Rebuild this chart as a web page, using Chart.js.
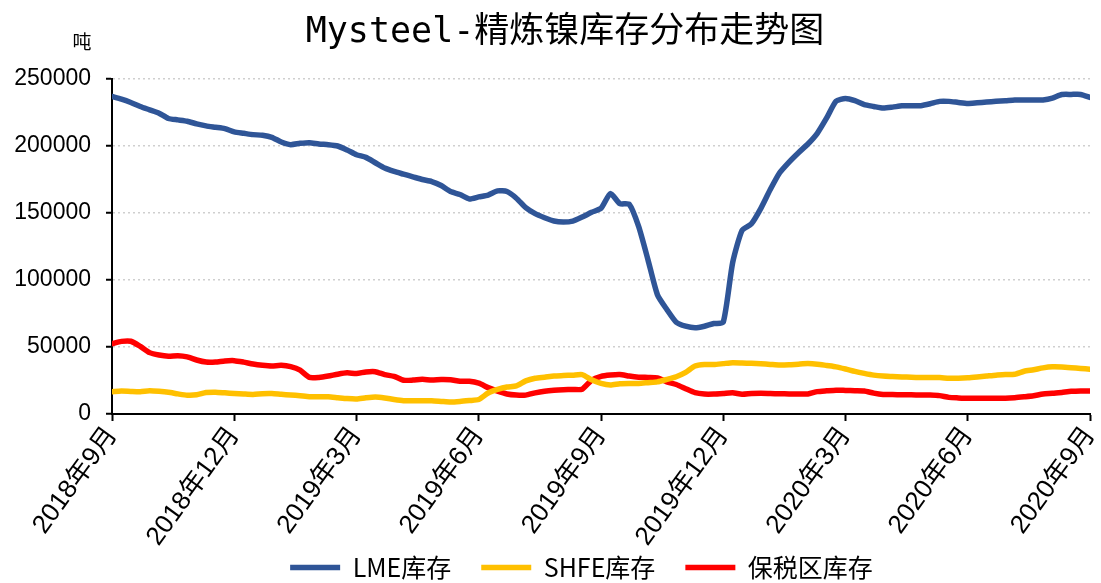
<!DOCTYPE html>
<html lang="zh">
<head>
<meta charset="UTF-8">
<title>Mysteel-精炼镍库存分布走势图</title>
<script src="https://cdn.jsdelivr.net/npm/chart.js"></script>
<style>
  body { margin: 0; background: #fff; }
  #wrap { width: 1101px; height: 583px; }
</style>
</head>
<body>
<div id="wrap"><canvas id="myChart"></canvas></div>
<script>
// tick labels, one every 13 weeks
const tickLabels = ['2018年9月', '2018年12月', '2019年3月', '2019年6月', '2019年9月',
  '2019年12月', '2020年3月', '2020年6月', '2020年9月']

// weekly stocks, tonnes
const lmeStock = [237000,235000,232500,229500,227000,224500,220500,219500,218500,216500,
  215000,214000,213000,210500,209500,208500,208000,206500,203000,201000,
  202000,202500,201500,201000,200000,197000,193500,191500,187500,183500,
  181000,179000,177000,175000,173500,170500,166000,163800,160500,162000,
  163400,166500,166000,161000,154000,149500,146500,144000,143300,144000,
  147000,150500,153500,164500,157000,156500,140000,115000,89000,78000,
  68500,65500,64300,65500,67500,68500,113000,137000,142000,153500,
  167500,180000,188000,195000,201500,209500,221000,233500,235500,233800,
  230800,229500,228300,229000,230000,230100,230100,231500,233300,233300,
  232500,231800,232300,232800,233400,233800,234300,234400,234400,234400,
  235700,238400,238500,238500,236300]

const shfeStock = [16600,17100,16800,16600,17300,16900,16200,15000,14000,14300,
  16000,16300,15800,15300,14900,14600,15200,15300,14700,14200,
  13600,12900,12900,12900,12200,11500,11200,12100,12700,12000,
  10800,9900,9900,9900,9900,9400,8900,9300,10000,10800,
  15700,18300,20100,21000,24700,26700,27500,28400,28700,29000,
  29400,25500,22800,21600,22600,22800,22800,23400,24000,25800,
  27800,31000,35800,36900,36900,37600,38300,38100,37800,37500,
  37000,36500,36700,37200,37600,37200,36200,35200,33600,31800,
  30300,29000,28300,28000,27700,27400,27200,27200,27200,26700,
  26700,27000,27600,28300,29000,29400,29700,31900,33000,34400,
  35200,35100,34600,34000,33400]

const bondedStock = [52500,54200,54300,50500,45800,44000,43100,43500,42600,40300,
  38800,38800,39600,39800,38700,37300,36400,35900,36300,35300,
  32700,27300,27300,28300,29700,30700,30200,31400,31600,29400,
  28100,25200,25300,25900,25300,25800,25600,24500,24400,23000,
  19700,17000,14900,14100,14100,15800,17000,17700,18100,18300,
  18500,25200,28100,29100,29500,28300,27500,27300,27000,24000,
  22000,18900,15900,14900,14900,15300,15800,14700,15300,15500,
  15300,15100,15000,14900,15000,16700,17300,17800,17600,17400,
  17200,15600,14600,14500,14400,14300,14200,14100,13700,12400,
  12000,11700,11700,11700,11700,11700,12100,12800,13600,15000,
  15400,16100,16900,17200,17100]

const seriesNames = ['LME库存', 'SHFE库存', '保税区库存']
const seriesColors = ['#2F5597', '#FFC000', '#FF0000']

const toPoints = arr => arr.map((v, i) => ({ x: i, y: v }))

Chart.defaults.font.family = "'Liberation Sans', 'Noto Sans CJK SC', sans-serif"
Chart.defaults.color = '#000'

// title and unit are drawn by hand so they can sit where the original has them
const headerText = {
  id: 'headerText',
  afterLayout(chart) {
    // legend in the original sits a bit right of the page centre
    chart.legend.left += 31
    chart.legend.right += 31
  },
  afterDraw(chart) {
    const ctx = chart.ctx
    ctx.save()
    ctx.fillStyle = '#000'
    ctx.textAlign = 'center'
    ctx.textBaseline = 'middle'
    ctx.font = "35px 'DejaVu Sans Mono', 'Noto Sans CJK SC', sans-serif"
    ctx.fillText('Mysteel-精炼镍库存分布走势图', 565, 33)
    ctx.font = "19px 'Noto Sans CJK SC', sans-serif"
    ctx.fillText('吨', 82, 42)
    ctx.restore()
  }
}

const datasets = [lmeStock, shfeStock, bondedStock].map((arr, k) => ({
  label: seriesNames[k],
  data: toPoints(arr),
  borderColor: seriesColors[k],
  backgroundColor: seriesColors[k],
  borderWidth: 5.5,
  pointRadius: 0,
  tension: 0.2,
  borderCapStyle: 'round',
  borderJoinStyle: 'round'
}))

new Chart(document.getElementById('myChart'), {
  type: 'line',
  data: { datasets },
  plugins: [headerText],
  options: {
    responsive: true,
    maintainAspectRatio: false,
    animation: false,
    layout: { padding: { top: 79, left: 0, right: 0, bottom: 0 } },
    plugins: {
      title: { display: false },
      tooltip: { enabled: false },
      legend: {
        position: 'bottom',
        maxHeight: 58,
        labels: {
          usePointStyle: true,
          pointStyle: 'line',
          pointStyleWidth: 50,
          boxHeight: 25,
          padding: 30,
          font: { size: 25, family: "'Noto Sans CJK SC', sans-serif" }
        }
      }
    },
    scales: {
      x: {
        type: 'linear',
        min: 0,
        max: 104,
        afterFit: s => {
          s.height = 111
          s.paddingRight = 11
          s._computeLabelArea = () => null // let the rotated labels run past the axis box
        },
        ticks: {
          stepSize: 13,
          autoSkip: false,
          minRotation: 54,
          maxRotation: 54,
          padding: 0,
          font: { size: 26 },
          callback: v => tickLabels[Math.round(v / 13)]
        },
        grid: { drawOnChartArea: false, tickLength: 7, tickColor: '#000', tickWidth: 2 },
        border: { color: '#000', width: 2 }
      },
      y: {
        min: 0,
        max: 250000,
        afterFit: s => { s.width = 112 },
        ticks: {
          stepSize: 50000,
          padding: 15,
          font: { size: 23 },
          callback: v => String(v)
        },
        grid: { color: '#cfcfcf', lineWidth: 1.5, tickLength: 6, tickColor: '#000', tickWidth: 2, tickBorderDash: [] },
        border: { color: '#000', width: 2, dash: [2, 3] }
      }
    }
  }
})
</script>
</body>
</html>
